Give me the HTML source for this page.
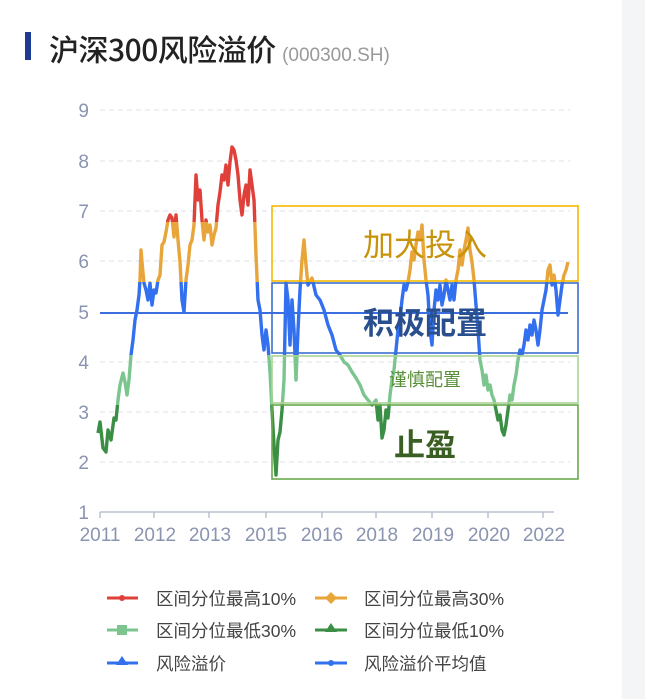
<!DOCTYPE html>
<html><head><meta charset="utf-8"><style>
body{margin:0;width:645px;height:699px;background:#fff;overflow:hidden;position:relative;font-family:"Liberation Sans","Noto Sans CJK SC",sans-serif}
.strip{position:absolute;right:0;top:0;width:23px;height:699px;background:#f4f5f7}
.bar{position:absolute;left:25px;top:32px;width:6px;height:28px;background:#1f3a93}
.title{position:absolute;left:49px;top:26px;font-size:30px;color:#222;font-family:"Noto Sans CJK SC",sans-serif;font-weight:500;white-space:nowrap;letter-spacing:-0.5px}
.title span{font-size:19px;color:#999;font-family:"Liberation Sans",sans-serif;font-weight:normal;letter-spacing:0}
</style></head><body>
<div class="strip"></div>
<div class="bar"></div>
<div class="title">沪深300风险溢价 <span>(000300.SH)</span></div>
<svg width="645" height="699" style="position:absolute;left:0;top:0" font-family="Liberation Sans, Noto Sans CJK SC, sans-serif">
<defs>
<clipPath id="cb"><rect x="0" y="282" width="645" height="73"/></clipPath>
<clipPath id="cl"><rect x="0" y="355" width="645" height="50"/></clipPath>
<clipPath id="cd"><rect x="0" y="405" width="645" height="200"/></clipPath>
<clipPath id="cO"><rect x="0" y="222" width="645" height="60"/></clipPath>
<clipPath id="cR"><rect x="0" y="0" width="645" height="222"/></clipPath>
<polyline id="p" fill="none" stroke-width="3.4" stroke-linejoin="round" points="98,433 100,422 103,448 106,452 108,430 111,440 114,418 116,420 118,400 120,385 123,373 125,382 127,395 129,380 131,355 133,340 135,320 137,310 139,295 140,280 141,250 142,262 144,283 146,290 148,300 150,283 152,305 154,290 156,293 158,280 160,275 162,245 164,242 166,232 168,220 170,215 172,218 174,237 176,215 178,240 180,262 182,300 184,312 186,280 188,265 190,245 192,240 194,225 196,175 198,200 200,190 202,220 204,240 206,220 208,232 210,225 212,245 214,235 216,228 218,205 220,192 222,175 224,180 226,165 228,185 230,162 232,147 234,150 236,160 238,175 240,200 242,215 244,195 246,185 248,205 250,170 252,185 254,200 256,255 258,300 260,310 262,335 264,350 266,330 268,345 270,372 272,410 274,445 276,475 278,440 280,432 282,410 284,380 286,283 288,300 290,345 292,300 294,330 296,380 298,330 300,290 302,260 304,240 306,265 308,285 312,278 316,295 320,300 324,310 328,325 332,335 336,350 340,355 344,362 348,365 352,372 356,378 360,385 364,395 368,400 372,405 376,400 378,420 380,405 382,438 384,430 386,410 388,418 390,395 392,380 394,370 396,350 398,330 400,318 402,300 404,285 406,290 408,282 410,270 412,252 414,260 416,245 418,232 420,240 422,225 424,260 426,280 428,295 430,330 432,345 434,310 436,290 438,300 440,285 442,305 444,295 446,280 448,290 450,300 452,285 454,300 456,280 458,270 460,250 462,265 464,250 466,240 468,228 470,250 472,262 474,280 476,305 478,330 480,360 482,370 484,385 486,375 488,390 490,385 492,395 494,400 496,410 498,420 500,415 502,430 504,435 506,425 508,410 510,395 512,400 514,385 516,375 518,360 520,350 522,355 524,345 526,330 528,340 530,325 532,335 534,320 536,330 538,345 540,330 542,310 544,300 546,290 548,270 550,265 552,285 554,275 556,290 558,315 560,300 562,285 564,275 566,270 568,262"/>
</defs>
<g stroke="#dde1e8" stroke-width="1" stroke-dasharray="5,4">
<line x1="100" y1="110" x2="570" y2="110"/><line x1="100" y1="161" x2="570" y2="161"/><line x1="100" y1="211" x2="570" y2="211"/><line x1="100" y1="261" x2="570" y2="261"/><line x1="100" y1="362" x2="570" y2="362"/><line x1="100" y1="412" x2="570" y2="412"/><line x1="100" y1="462" x2="570" y2="462"/>
</g>
<g fill="#8a94b0" font-size="19" text-anchor="end">
<text x="89" y="117">9</text><text x="89" y="168">8</text><text x="89" y="218">7</text><text x="89" y="268">6</text><text x="89" y="319">5</text><text x="89" y="369">4</text><text x="89" y="419">3</text><text x="89" y="469">2</text><text x="89" y="519">1</text>
</g>
<line x1="100" y1="512" x2="554" y2="512" stroke="#b8c0d0" stroke-width="1.5"/>
<g stroke="#b8c0d0" stroke-width="1.5"><line x1="100" y1="512" x2="100" y2="518"/><line x1="154" y1="512" x2="154" y2="518"/><line x1="209" y1="512" x2="209" y2="518"/><line x1="266" y1="512" x2="266" y2="518"/><line x1="322" y1="512" x2="322" y2="518"/><line x1="376" y1="512" x2="376" y2="518"/><line x1="432" y1="512" x2="432" y2="518"/><line x1="488" y1="512" x2="488" y2="518"/><line x1="543" y1="512" x2="543" y2="518"/></g>
<g fill="#8a94b0" font-size="19" text-anchor="middle">
<text x="100" y="541">2011</text><text x="155" y="541">2012</text><text x="210" y="541">2013</text><text x="266" y="541">2015</text><text x="322" y="541">2016</text><text x="377" y="541">2018</text><text x="433" y="541">2019</text><text x="489" y="541">2020</text><text x="544" y="541">2022</text>
</g>
<line x1="100" y1="313" x2="568" y2="313" stroke="#3b6fe0" stroke-width="2"/>
<use href="#p" stroke="#e0403a" clip-path="url(#cR)"/>
<use href="#p" stroke="#e8a53a" clip-path="url(#cO)"/>
<use href="#p" stroke="#3370f0" clip-path="url(#cb)"/>
<use href="#p" stroke="#7cc58f" clip-path="url(#cl)"/>
<use href="#p" stroke="#3a8f45" clip-path="url(#cd)"/>
<rect x="272" y="206" width="306" height="75" fill="none" stroke="#f5b800" stroke-width="1.6"/>
<rect x="272" y="283" width="306" height="70" fill="none" stroke="#3b6fd0" stroke-width="1.6"/>
<rect x="272" y="356" width="306" height="47" fill="none" stroke="#a9d492" stroke-width="1.6"/>
<rect x="272" y="405" width="306" height="74" fill="none" stroke="#6aa84f" stroke-width="1.6"/>
<g font-family="Noto Sans CJK SC, sans-serif" text-anchor="middle">
<text x="425" y="256" font-size="31" fill="#c8920a">加大投入</text>
<text x="425" y="334" font-size="31" fill="#2a4f8f" font-weight="bold">积极配置</text>
<text x="425" y="386" font-size="18" fill="#5a8f3a">谨慎配置</text>
<text x="425" y="456" font-size="31" fill="#3a5f22" font-weight="bold">止盈</text>
</g>
<g stroke-width="3">
<line x1="107" y1="598" x2="138" y2="598" stroke="#e0403a"/><circle cx="122" cy="598" r="3" fill="#e0403a"/>
<line x1="315" y1="598" x2="347" y2="598" stroke="#e8a53a"/><path d="M331 592 L337 598 L331 604 L325 598Z" fill="#e8a53a" stroke="none"/>
<line x1="107" y1="630" x2="138" y2="630" stroke="#7cc58f"/><rect x="117" y="625" width="10" height="10" fill="#7cc58f" stroke="none"/>
<line x1="315" y1="630" x2="347" y2="630" stroke="#3a8f45"/><path d="M331 623 L337 632 L325 632Z" fill="#3a8f45" stroke="none"/>
<line x1="107" y1="663" x2="138" y2="663" stroke="#3370f0"/><path d="M122 656 L128 665 L116 665Z" fill="#3370f0" stroke="none"/>
<line x1="315" y1="663" x2="347" y2="663" stroke="#3370f0"/><circle cx="331" cy="663" r="3" fill="#3370f0"/>
</g>
<g font-size="17.5" fill="#444">
<text x="156" y="605">区间分位最高10%</text><text x="364" y="605">区间分位最高30%</text>
<text x="156" y="637">区间分位最低30%</text><text x="364" y="637">区间分位最低10%</text>
<text x="156" y="670">风险溢价</text><text x="364" y="670">风险溢价平均值</text>
</g>
</svg>
</body></html>
